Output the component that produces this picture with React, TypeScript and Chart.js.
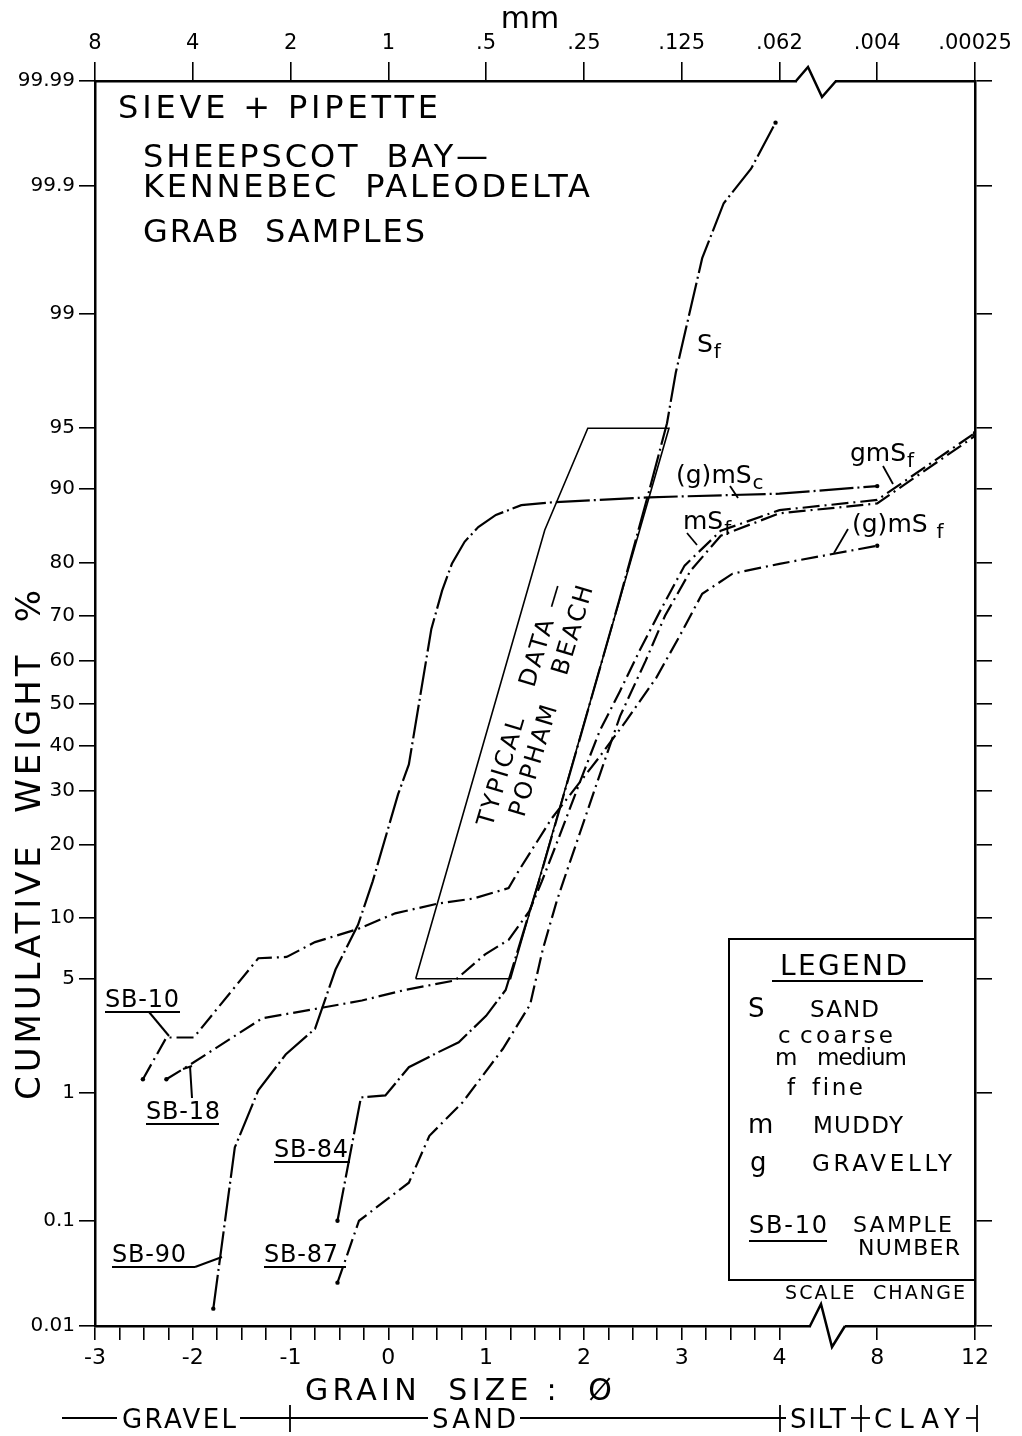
import React, { useEffect, useRef } from "react";
import { Chart, registerables } from "chart.js";

Chart.register(...registerables);

// ---------------- data ----------------
const Y_TICKS = [0.01, 0.1, 1, 5, 10, 20, 30, 40, 50, 60, 70, 80, 90, 95, 99, 99.9, 99.99];
const Y_TICK_LABELS = ["0.01", "0.1", "1", "5", "10", "20", "30", "40", "50", "60", "70", "80", "90", "95", "99", "99.9", "99.99"];
const PHI_TICKS = [-3, -2, -1, 0, 1, 2, 3, 4, 8, 12];
const PHI_LABELS = ["-3", "-2", "-1", "0", "1", "2", "3", "4", "8", "12"];
const MM_LABELS = ["8", "4", "2", "1", ".5", ".25", ".125", ".062", ".004", ".00025"];

const SB90_PHI = [-1.79, -1.57, -1.33, -1.05, -0.75, -0.54, -0.31, -0.16, 0.10, 0.21, 0.44, 0.55, 0.65, 0.78, 0.92, 1.1, 1.36, 1.64, 2.67, 4, 8];
const SB90_PCT = [0.015, 0.4, 1.04, 1.8, 2.6, 5.6, 9.3, 14.4, 29.4, 35.8, 67.2, 75, 79.8, 83.3, 85.4, 87.0, 88.2, 88.5, 89.1, 89.5, 90.3];

const SB84_PHI = [-0.52, -0.28, -0.03, 0.21, 0.51, 0.72, 1.0, 1.2, 1.54, 1.95, 2.36, 2.67, 2.85, 2.94, 3.21, 3.43, 3.71, 3.96];
const SB84_PCT = [0.1, 0.93, 0.96, 1.49, 1.86, 2.15, 3.1, 4.35, 14.4, 41, 73, 89.9, 95.3, 97.6, 99.61, 99.86, 99.93, 99.974];

const SB87_PHI = [-0.52, -0.30, 0.21, 0.42, 0.76, 1.17, 1.45, 1.58, 1.72, 1.79, 1.96, 2.17, 2.37, 2.63, 2.83, 3.09, 3.4, 4, 8, 12];
const SB87_PCT = [0.027, 0.1, 0.21, 0.49, 0.86, 1.95, 3.6, 7.1, 11.8, 14.4, 22, 34, 47, 60, 70, 78.6, 84.2, 87.2, 88.4, 94.5];

const SB18_PHI = [-2.27, -2.04, -1.29, -0.75, -0.27, 0.17, 0.68, 0.99, 1.23, 1.44, 1.57, 1.75, 1.96, 2.16, 2.37, 2.57, 2.78, 3.03, 3.4, 4, 8, 12];
const SB18_PCT = [1.24, 1.53, 3.0, 3.4, 3.8, 4.35, 4.9, 6.7, 7.9, 10.7, 14.4, 21.4, 32, 43.4, 53, 62.4, 71, 79.5, 84.9, 87.6, 88.8, 94.7];

const SB10_PHI = [-2.51, -2.27, -1.99, -1.33, -1.04, -0.75, -0.31, 0.07, 0.51, 0.87, 1.23, 1.33, 1.67, 2.15, 2.43, 2.74, 2.97, 3.21, 3.52, 4, 8];
const SB10_PCT = [1.24, 2.3, 2.3, 6.4, 6.5, 7.7, 8.9, 10.5, 11.6, 12.2, 13.5, 15.8, 24.6, 37.2, 45.8, 56.1, 65.3, 74.4, 78.1, 79.8, 82.7];

// "Typical data - Popham Beach" envelope
const BOX_PHI = [0.28, 1.25, 2.87, 2.04, 1.6, 0.28];
const BOX_PCT = [5, 5, 95, 95, 85, 5];

// ---------------- helpers ----------------
function probit(pct: number): number {
  const p = pct / 100;
  const a = [-3.969683028665376e1, 2.209460984245205e2, -2.759285104469687e2, 1.38357751867269e2, -3.066479806614716e1, 2.506628277459239];
  const b = [-5.447609879822406e1, 1.615858368580409e2, -1.556989798598866e2, 6.680131188771972e1, -1.328068155288572e1];
  const c = [-7.784894002430293e-3, -3.223964580411365e-1, -2.400758277161838, -2.549732539343734, 4.374664141464968, 2.938163982698783];
  const d = [7.784695709041462e-3, 3.224671290700398e-1, 2.445134137142996, 3.754408661907416];
  const pl = 0.02425;
  if (p < pl) {
    const q = Math.sqrt(-2 * Math.log(p));
    return (((((c[0] * q + c[1]) * q + c[2]) * q + c[3]) * q + c[4]) * q + c[5]) / ((((d[0] * q + d[1]) * q + d[2]) * q + d[3]) * q + 1);
  }
  if (p <= 1 - pl) {
    const q = p - 0.5;
    const r = q * q;
    return ((((((a[0] * r + a[1]) * r + a[2]) * r + a[3]) * r + a[4]) * r + a[5]) * q) / (((((b[0] * r + b[1]) * r + b[2]) * r + b[3]) * r + b[4]) * r + 1);
  }
  const q = Math.sqrt(-2 * Math.log(1 - p));
  return -(((((c[0] * q + c[1]) * q + c[2]) * q + c[3]) * q + c[4]) * q + c[5]) / ((((d[0] * q + d[1]) * q + d[2]) * q + d[3]) * q + 1);
}

// scale change after phi 4: 4 phi units -> 1 axis unit
function xPos(phi: number): number {
  return phi <= 4 ? phi : 4 + (phi - 4) / 4;
}

const Y_MIN = probit(0.01);
const Y_MAX = probit(99.99);
const Y_TICK_POS = Y_TICKS.map(probit);
const X_TICK_POS = PHI_TICKS.map(xPos);
const X_MINOR: number[] = [];
for (let v = -3; v <= 4.0001; v += 0.25) X_MINOR.push(Math.round(v * 4) / 4);
X_MINOR.push(5, 6);

const TICK_FONT = '"DejaVu Sans", "Liberation Sans", sans-serif';
const FONT = '"DejaVu Sans", "Liberation Sans", sans-serif';

function mk(phi: number[], pct: number[], dash: number[], width = 2.2, dots = true) {
  const n = phi.length;
  return {
    data: phi.map((p, i) => ({ x: xPos(p), y: probit(pct[i]) })),
    borderColor: "#000",
    backgroundColor: "#000",
    borderWidth: width,
    borderDash: dash,
    fill: false,
    tension: 0,
    pointRadius: (ctx: any) => (dots && (ctx.dataIndex === 0 || ctx.dataIndex === n - 1) ? 2.2 : 0),
    pointBorderWidth: 0,
    pointBackgroundColor: "#000",
    xAxisID: "x",
    yAxisID: "y",
  };
}

function txt(ctx: CanvasRenderingContext2D, s: string, x: number, y: number, size: number, w?: number, align: CanvasTextAlign = "left") {
  ctx.font = `${size}px ${FONT}`;
  (ctx as any).letterSpacing = "0px";
  if (w) {
    const m = ctx.measureText(s).width;
    const ls = (w - m) / Math.max(1, s.length - 1);
    (ctx as any).letterSpacing = `${ls.toFixed(2)}px`;
  }
  ctx.textAlign = align;
  ctx.textBaseline = "alphabetic";
  ctx.fillText(s, x, y);
  (ctx as any).letterSpacing = "0px";
}

function line(ctx: CanvasRenderingContext2D, pts: number[][], w = 2) {
  ctx.beginPath();
  ctx.lineWidth = w;
  ctx.moveTo(pts[0][0], pts[0][1]);
  for (let i = 1; i < pts.length; i++) ctx.lineTo(pts[i][0], pts[i][1]);
  ctx.stroke();
}

const annotations = {
  id: "annotations",
  afterDraw(chart: any) {
    const ctx: CanvasRenderingContext2D = chart.ctx;
    ctx.save();
    ctx.fillStyle = "#000";
    ctx.strokeStyle = "#000";
    ctx.setLineDash([]);

    // scale-change breaks
    ctx.fillStyle = "#fff";
    ctx.fillRect(797, 77, 38, 8);
    ctx.fillRect(811, 1322, 34, 8);
    ctx.fillStyle = "#000";
    line(ctx, [[796, 81], [808, 67], [822, 97], [836, 81]], 2.5);
    line(ctx, [[810, 1326], [821, 1304], [832, 1347], [845, 1326]], 2.5);

    // header text
    txt(ctx, "SIEVE + PIPETTE", 118, 118, 32, 320);
    txt(ctx, "SHEEPSCOT  BAY—", 143, 167, 32, 345);
    txt(ctx, "KENNEBEC  PALEODELTA", 143, 197, 32, 447);
    txt(ctx, "GRAB  SAMPLES", 143, 242, 32, 282);

    // axis titles
    txt(ctx, "mm", 530, 28, 30, undefined, "center");
    ctx.save();
    ctx.translate(40, 1100);
    ctx.rotate(-Math.PI / 2);
    txt(ctx, "CUMULATIVE  WEIGHT  %", 0, 0, 34, 510);
    ctx.restore();
    txt(ctx, "GRAIN  SIZE :  Ø", 305, 1400, 30, 307);

    // size classes row
    const cy = 1418;
    txt(ctx, "GRAVEL", 122, 1428, 26, 114);
    txt(ctx, "SAND", 432, 1428, 26, 84);
    txt(ctx, "SILT", 790, 1428, 26, 56);
    txt(ctx, "CLAY", 874, 1428, 26, 86);
    line(ctx, [[62, cy], [117, cy]], 1.8);
    line(ctx, [[240, cy], [428, cy]], 1.8);
    line(ctx, [[520, cy], [786, cy]], 1.8);
    line(ctx, [[851, cy], [870, cy]], 1.8);
    line(ctx, [[966, cy], [977, cy]], 1.8);
    for (const vx of [290, 780, 861, 977]) line(ctx, [[vx, 1405], [vx, 1432]], 1.8);

    // curve classification labels
    const lab = (main: string, sub: string, x: number, y: number, subGap = 1, size = 25) => {
      txt(ctx, main, x, y, size);
      ctx.font = `${size}px ${FONT}`;
      const w = ctx.measureText(main).width;
      txt(ctx, sub, x + w + subGap, y + 6, 20);
    };
    lab("S", "f", 697, 352);
    lab("gmS", "f", 850, 461);
    lab("(g)mS", "c", 676, 483);
    lab("mS", "f", 683, 529);
    lab("(g)mS", "f", 852, 532, 9);
    line(ctx, [[883, 466], [893, 484]], 1.8);
    line(ctx, [[730, 486], [738, 498]], 1.8);
    line(ctx, [[687, 533], [697, 545]], 1.8);
    line(ctx, [[848, 529], [834, 553]], 1.8);

    // sample number labels
    const sb = (s: string, x: number, y: number, ulEnd: number) => {
      txt(ctx, s, x, y, 24, 74);
      line(ctx, [[x, y + 5], [ulEnd, y + 5]], 2);
    };
    sb("SB-10", 105, 1007, 180);
    line(ctx, [[149, 1012], [169, 1036]], 2);
    sb("SB-18", 146, 1119, 219);
    line(ctx, [[192, 1098], [190, 1066]], 2);
    line(ctx, [[183, 1069], [192, 1066]], 2);
    sb("SB-84", 274, 1157, 350);
    sb("SB-87", 264, 1262, 346);
    sb("SB-90", 112, 1262, 195);
    line(ctx, [[195, 1267], [222, 1257]], 2);

    // beach envelope text (rotated)
    const ang = Math.atan2(-243, 73);
    ctx.save();
    ctx.translate(492, 828);
    ctx.rotate(ang);
    txt(ctx, "TYPICAL   DATA —", 0, 0, 24, 252);
    ctx.restore();
    ctx.save();
    ctx.translate(524, 818);
    ctx.rotate(ang);
    txt(ctx, "POPHAM   BEACH", 0, 0, 24, 240);
    ctx.restore();

    // legend box
    ctx.lineWidth = 2;
    ctx.strokeRect(729, 939, 975 - 729, 1280 - 939);
    txt(ctx, "LEGEND", 780, 975, 28, 127);
    line(ctx, [[772, 981], [923, 981]], 2);
    txt(ctx, "S", 748, 1017, 26);
    txt(ctx, "SAND", 810, 1017, 23, 69);
    txt(ctx, "c", 778, 1043, 23);
    txt(ctx, "coarse", 800, 1043, 23, 93);
    txt(ctx, "m", 775, 1065, 23);
    txt(ctx, "medium", 817, 1065, 23, 90);
    txt(ctx, "f", 787, 1095, 23);
    txt(ctx, "fine", 812, 1095, 23, 51);
    txt(ctx, "m", 748, 1133, 26);
    txt(ctx, "MUDDY", 813, 1133, 23, 90);
    txt(ctx, "g", 750, 1171, 26);
    txt(ctx, "GRAVELLY", 812, 1171, 23, 140);
    txt(ctx, "SB-10", 749, 1233, 24, 78);
    line(ctx, [[749, 1241], [827, 1241]], 2);
    txt(ctx, "SAMPLE", 853, 1232, 22, 99);
    txt(ctx, "NUMBER", 858, 1255, 22, 102);
    txt(ctx, "SCALE  CHANGE", 785, 1299, 19, 180);

    ctx.restore();
  },
};

export default function App() {
  const ref = useRef<HTMLCanvasElement>(null);
  useEffect(() => {
    const longDash = [34, 4, 2, 4];
    const dd = [17, 5, 2, 5];
    const datasets: any[] = [
      mk(SB90_PHI, SB90_PCT, longDash),
      mk(SB84_PHI, SB84_PCT, longDash),
      mk(SB87_PHI, SB87_PCT, dd),
      mk(SB18_PHI, SB18_PCT, dd),
      mk(SB10_PHI, SB10_PCT, dd),
      mk(BOX_PHI, BOX_PCT, [], 1.6, false),
    ];
    const axisCommon = {
      type: "linear" as const,
      grid: { display: true, drawOnChartArea: false, drawTicks: true, color: "#000", lineWidth: 1.6 },
      border: { display: true, color: "#000", width: 2.5 },
    };
    const chart = new Chart(ref.current!, {
      type: "line",
      data: { datasets },
      options: {
        animation: false,
        responsive: false,
        maintainAspectRatio: false,
        events: [],
        layout: { padding: 0 },
        plugins: { legend: { display: false }, tooltip: { enabled: false }, title: { display: false } },
        scales: {
          x: {
            ...axisCommon,
            position: "bottom",
            min: -3,
            max: 6,
            grid: { ...axisCommon.grid, tickLength: 14 },
            afterBuildTicks: (s: any) => { s.ticks = X_MINOR.map((v) => ({ value: v })); },
            afterFit: (s: any) => { s.height = 1436 - 1326; },
            ticks: {
              autoSkip: false,
              maxRotation: 0,
              padding: 5,
              color: "#000",
              font: { family: TICK_FONT, size: 22 },
              callback: (v: any) => { const i = X_TICK_POS.indexOf(v); return i >= 0 ? PHI_LABELS[i] : ""; },
            },
          },
          x2: {
            ...axisCommon,
            position: "top",
            min: -3,
            max: 6,
            grid: { ...axisCommon.grid, tickLength: 19 },
            afterBuildTicks: (s: any) => { s.ticks = X_TICK_POS.map((v) => ({ value: v })); },
            afterFit: (s: any) => { s.height = 81; },
            ticks: {
              autoSkip: false,
              maxRotation: 0,
              padding: 6,
              color: "#000",
              font: { family: TICK_FONT, size: 21 },
              callback: (_v: any, i: number) => MM_LABELS[i],
            },
          },
          y: {
            ...axisCommon,
            position: "left",
            min: Y_MIN,
            max: Y_MAX,
            grid: { ...axisCommon.grid, tickLength: 16 },
            afterBuildTicks: (s: any) => { s.ticks = Y_TICK_POS.map((v) => ({ value: v })); },
            afterFit: (s: any) => { s.width = 95; },
            ticks: {
              autoSkip: false,
              padding: 4,
              color: "#000",
              font: { family: TICK_FONT, size: 20 },
              callback: (_v: any, i: number) => Y_TICK_LABELS[i],
            },
          },
          y2: {
            ...axisCommon,
            position: "right",
            min: Y_MIN,
            max: Y_MAX,
            grid: { ...axisCommon.grid, tickLength: 17 },
            afterBuildTicks: (s: any) => { s.ticks = Y_TICK_POS.map((v) => ({ value: v })); },
            afterFit: (s: any) => { s.width = 1022 - 975; },
            ticks: { display: false },
          },
        },
      } as any,
      plugins: [annotations],
    });
    return () => chart.destroy();
  }, []);
  return (
    <div style={{ position: "absolute", left: 0, top: 0, width: 1022, height: 1436, background: "#fff" }}>
      <canvas ref={ref} width={1022} height={1436} style={{ display: "block", width: 1022, height: 1436 }} />
    </div>
  );
}
